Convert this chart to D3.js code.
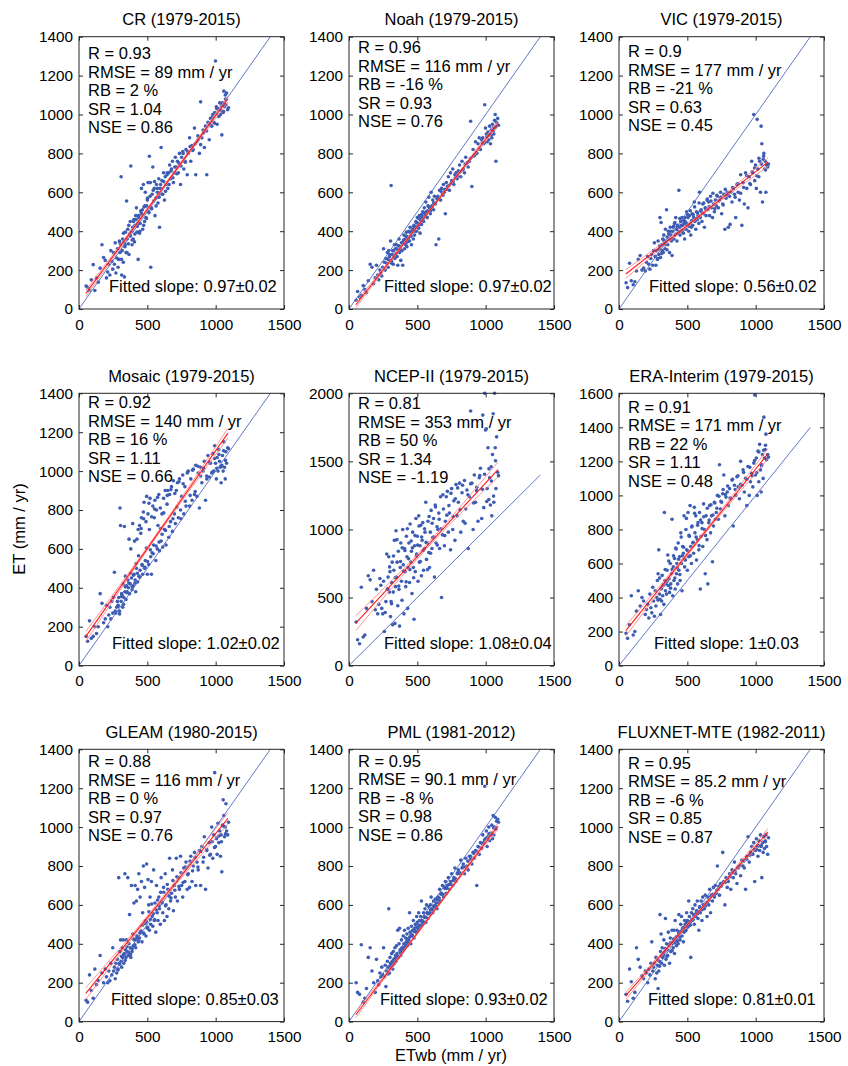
<!DOCTYPE html>
<html>
<head>
<meta charset="utf-8">
<script src="https://cdn.jsdelivr.net/npm/d3@7"></script>
<style>
  body { margin: 0; background: #fff; }
  text { font-family: "Liberation Sans", Arial, sans-serif; fill: #000; }
</style>
</head>
<body>
<div id="chart"></div>
<script>
// Panel labels and statistics
const models = ['CR', 'Noah', 'VIC', 'Mosaic', 'NCEP-II', 'ERA-Interim', 'GLEAM', 'PML', 'FLUXNET-MTE'];
const periods = ['1979-2015', '1979-2015', '1979-2015', '1979-2015', '1979-2015', '1979-2015', '1980-2015', '1981-2012', '1982-2011'];
const statR = ['0.93', '0.96', '0.9', '0.92', '0.81', '0.91', '0.88', '0.95', '0.95'];
const statRMSE = ['89', '116', '177', '140', '353', '171', '116', '90.1', '85.2'];
const statRB = ['2', '-16', '-21', '16', '50', '22', '0', '-8', '-6'];
const statSR = ['1.04', '0.93', '0.63', '1.11', '1.34', '1.11', '0.97', '0.98', '0.85'];
const statNSE = ['0.86', '0.76', '0.45', '0.66', '-1.19', '0.48', '0.76', '0.86', '0.87'];
const slopes = ['0.97±0.02', '0.97±0.02', '0.56±0.02', '1.02±0.02', '1.08±0.04', '1±0.03', '0.85±0.03', '0.93±0.02', '0.81±0.01'];

// Axis extents and ticks
const yMaxes = [1400, 1400, 1400, 1400, 2000, 1600, 1400, 1400, 1400];
const yTicks = [
  [0, 200, 400, 600, 800, 1000, 1200, 1400],
  [0, 500, 1000, 1500, 2000],
  [0, 200, 400, 600, 800, 1000, 1200, 1400, 1600]
];
const yTickSet = [0, 0, 0, 0, 1, 2, 0, 0, 0];
const xTicks = [0, 500, 1000, 1500];

// Fitted lines: y at x = 50 and x = 1090, and half-width of confidence band (ends, middle)
const fitX = [50, 1090];
const fitY = [[80, 1080], [22, 953], [180, 756], [150, 1195], [312, 1440], [205, 1245], [145, 1045], [35, 1005], [133, 975]];
const ciHalf = [[16, 5], [14, 4], [22, 6], [25, 7], [55, 15], [30, 8], [30, 8], [15, 4], [18, 5]];

// Water-balance ET (x), shared by all panels
const etwb = [
  52, 63, 77, 90, 104, 116, 128, 141, 155, 168,
  180, 192, 201, 210, 218, 226, 233, 240, 247, 253,
  259, 265, 270, 276, 281, 286, 291, 296, 300, 304,
  308, 312, 316, 320, 324, 328, 332, 336, 340, 344,
  348, 352, 357, 361, 366, 370, 375, 379, 384, 388,
  393, 397, 402, 406, 411, 415, 420, 424, 429, 433,
  438, 443, 447, 452, 457, 461, 466, 471, 476, 480,
  485, 490, 495, 500, 505, 510, 515, 520, 525, 530,
  535, 540, 546, 551, 556, 562, 567, 573, 578, 584,
  589, 595, 601, 607, 613, 619, 625, 631, 637, 644,
  650, 657, 663, 670, 677, 684, 691, 698, 705, 712,
  720, 727, 735, 743, 751, 759, 767, 775, 783, 792,
  800, 809, 818, 827, 836, 845, 854, 863, 872, 881,
  890, 899, 908, 917, 926, 935, 944, 953, 962, 971,
  979, 986, 993, 999, 1005, 1011, 1017, 1023, 1029, 1035,
  1040, 1045, 1050, 1055, 1060, 1065, 1070, 1075, 1080, 1088,
  285, 297, 311, 326, 338, 351, 364, 377, 389, 399,
  409, 418, 427, 436, 445, 455, 464, 473, 483, 493,
  502, 512, 522, 532, 543, 553, 564, 575, 586, 597,
  608, 620, 633, 646, 660, 673, 687, 701, 716, 731,
  746, 762, 778, 795, 813, 831, 850, 870, 890, 912,
  934, 957, 975, 992, 1008, 1024, 1042, 1058, 1072, 1094
];

// Model ET (y), one array per panel
const etCR = [
  118, 112, 96, 150, 228, 95, 160, 138, 210, 330,
  265, 250, 160, 190, 230, 175, 300, 245, 205, 290,
  230, 340, 185, 262, 310, 215, 255, 350, 290, 330,
  680, 175, 300, 360, 240, 345, 165, 320, 395, 290,
  555, 360, 410, 335, 280, 385, 450, 735, 400, 330,
  420, 360, 460, 345, 430, 480, 520, 395, 440, 255,
  470, 390, 440, 505, 620, 485, 410, 640, 525, 450,
  600, 470, 530, 560, 650, 500, 785, 580, 215, 520,
  590, 730, 555, 620, 480, 570, 640, 600, 545, 670,
  420, 620, 830, 660, 590, 700, 560, 680, 640, 690,
  620, 700, 740, 670, 720, 760, 650, 700, 780, 730,
  760, 700, 800, 640, 780, 810, 720, 760, 820, 690,
  800, 880, 760, 840, 820, 930, 690, 860, 870, 800,
  1065, 880, 920, 830, 940, 690, 960, 870, 980, 940,
  1000, 960, 1010, 1275, 1040, 950, 1030, 990, 1060, 1000,
  1020, 895, 1060, 1010, 1120, 1040, 1100, 1050, 1110, 1025,
  310, 345, 255, 390, 330, 290, 430, 375, 355, 450,
  385, 460, 425, 480, 400, 495, 510, 430, 530, 465,
  570, 495, 650, 515, 610, 655, 530, 620, 575, 640,
  590, 655, 605, 700, 640, 710, 675, 730, 695, 750,
  735, 800, 755, 810, 835, 815, 850, 890, 845, 905,
  915, 950, 985, 955, 1030, 995, 1045, 1015, 1080, 1035
];
const etNoah = [
  45, 90, 60, 70, 120, 100, 85, 145, 230, 215,
  130, 160, 225, 175, 150, 200, 185, 170, 215, 310,
  240, 200, 260, 235, 290, 215, 300, 270, 250, 350,
  635, 245, 280, 300, 230, 270, 330, 260, 310, 285,
  330, 270, 225, 300, 360, 290, 320, 250, 340, 300,
  225, 345, 380, 310, 360, 330, 395, 320, 370, 350,
  400, 350, 420, 375, 330, 395, 410, 360, 430, 380,
  420, 450, 400, 470, 440, 415, 480, 390, 455, 435,
  470, 500, 450, 520, 480, 550, 500, 470, 530, 575,
  520, 490, 600, 530, 560, 510, 580, 540, 330, 570,
  580, 360, 610, 560, 620, 590, 640, 600, 490, 650,
  630, 680, 610, 700, 660, 720, 640, 690, 700, 670,
  710, 740, 680, 760, 720, 700, 780, 750, 730, 760,
  965, 630, 820, 790, 860, 800, 850, 880, 820, 870,
  880, 850, 1050, 930, 900, 860, 910, 870, 940, 850,
  920, 880, 950, 930, 900, 970, 1000, 760, 960, 980,
  255, 280, 235, 300, 270, 310, 325, 305, 340, 355,
  335, 375, 345, 365, 395, 375, 405, 425, 400, 445,
  425, 465, 435, 485, 465, 495, 475, 505, 525, 505,
  525, 545, 545, 565, 565, 605, 585, 615, 615, 635,
  645, 655, 675, 685, 705, 715, 745, 755, 775, 785,
  805, 825, 855, 855, 885, 895, 895, 915, 935, 945
];
const etVIC = [
  135, 110, 235, 145, 125, 140, 195, 255, 275, 200,
  210, 195, 240, 270, 230, 205, 260, 280, 225, 300,
  340, 270, 225, 300, 255, 350, 280, 310, 470, 265,
  445, 330, 300, 360, 290, 380, 340, 310, 410, 350,
  510, 370, 330, 400, 360, 290, 420, 380, 350, 275,
  400, 420, 360, 440, 380, 470, 410, 350, 430, 390,
  610, 420, 380, 450, 400, 470, 430, 390, 440, 360,
  450, 410, 500, 430, 470, 400, 480, 440, 380, 420,
  490, 430, 470, 550, 450, 410, 500, 460, 480, 440,
  600, 470, 510, 450, 540, 490, 420, 520, 480, 560,
  510, 550, 480, 580, 520, 470, 540, 500, 560, 530,
  580, 520, 560, 600, 490, 540, 590, 410, 570, 600,
  420, 580, 600, 550, 620, 590, 470, 640, 600, 560,
  690, 430, 650, 540, 700, 620, 520, 680, 640, 760,
  700, 1000, 660, 740, 620, 975, 720, 680, 760, 600,
  940, 850, 550, 770, 800, 720, 760, 600, 740, 730,
  260, 325, 285, 355, 330, 305, 385, 400, 360, 425,
  445, 385, 425, 400, 465, 430, 405, 455, 470, 440,
  485, 425, 505, 455, 485, 525, 465, 495, 545, 505,
  495, 545, 515, 565, 525, 555, 595, 515, 585, 555,
  575, 535, 615, 585, 435, 625, 575, 645, 595, 625,
  685, 645, 705, 725, 685, 775, 745, 785, 715, 745
];
const etMosaic = [
  150, 125, 230, 140, 150, 200, 165, 200, 370, 320,
  220, 240, 310, 200, 260, 300, 240, 330, 270, 350,
  480, 280, 270, 300, 330, 310, 350, 280, 810, 720,
  330, 370, 360, 300, 420, 350, 715, 380, 460, 340,
  410, 380, 440, 400, 650, 370, 420, 600, 450, 390,
  730, 410, 470, 640, 440, 380, 500, 650, 430, 700,
  460, 720, 490, 680, 760, 520, 470, 790, 840, 500,
  540, 740, 870, 470, 780, 520, 700, 860, 560, 470,
  580, 820, 620, 760, 850, 540, 800, 600, 720, 880,
  590, 810, 640, 780, 610, 860, 700, 900, 620, 830,
  900, 660, 880, 740, 920, 690, 950, 780, 730, 900,
  940, 760, 960, 800, 870, 980, 780, 920, 820, 990,
  1000, 820, 960, 850, 1010, 880, 1030, 870, 990, 810,
  1020, 940, 1000, 1050, 850, 960, 1080, 970, 1040, 990,
  1090, 1000, 1130, 1040, 960, 1070, 1000, 1110, 1050, 1020,
  940, 1030, 1080, 1000, 1150, 1020, 960, 1100, 1040, 1120,
  305, 265, 355, 315, 405, 375, 425, 475, 405, 465,
  425, 525, 475, 565, 455, 705, 515, 755, 505, 605,
  535, 835, 595, 765, 575, 805, 615, 865, 635, 705,
  675, 785, 695, 875, 715, 905, 755, 885, 815, 945,
  755, 935, 845, 995, 875, 1005, 895, 1025, 975, 1015,
  975, 1045, 995, 1065, 1015, 1085, 1025, 1105, 1055, 1115
];
const etNCEP = [
  320, 190, 160, 575, 210, 225, 420, 660, 630, 470,
  700, 410, 560, 380, 450, 640, 590, 420, 380, 620,
  250, 390, 470, 820, 560, 650, 800, 540, 690, 360,
  470, 610, 760, 300, 540, 700, 920, 310, 580, 990,
  650, 760, 440, 840, 560, 290, 720, 900, 620, 480,
  1000, 740, 380, 860, 690, 580, 950, 800, 420, 720,
  900, 610, 1040, 760, 840, 530, 980, 720, 340, 880,
  690, 1080, 820, 950, 620, 1100, 760, 880, 1030, 660,
  920, 1050, 700, 860, 980, 1200, 780, 900, 1060, 830,
  720, 980, 1140, 860, 940, 1080, 650, 1180, 900, 1020,
  1000, 1120, 860, 1240, 500, 960, 1150, 880, 1060, 1240,
  1280, 980, 1120, 850, 1300, 1000, 1210, 920, 1330, 1100,
  1200, 1340, 980, 1270, 1060, 1360, 1150, 1290, 860, 1240,
  1870, 1340, 1000, 1400, 1200, 1310, 1060, 1380, 1450, 1080,
  1840, 1160, 2000, 1730, 1740, 1300, 1600, 1220, 1380, 1180,
  1460, 1100, 1550, 1850, 1200, 2000, 1600, 1300, 1680, 1420,
  565, 725, 455, 805, 645, 925, 585, 765, 865, 695,
  845, 615, 1005, 785, 705, 915, 865, 645, 955, 805,
  885, 1025, 765, 945, 845, 1005, 905, 705, 1095, 825,
  1045, 945, 1165, 885, 1075, 1005, 1255, 955, 1105, 1175,
  1265, 1095, 1225, 1305, 1145, 1325, 1045, 1255, 1335, 1195,
  1285, 1395, 1295, 1405, 1205, 1445, 1355, 1245, 1505, 1395
];
const etERA = [
  190, 160, 240, 410, 180, 200, 320, 440, 350, 400,
  380, 300, 330, 360, 280, 420, 340, 310, 460, 380,
  290, 440, 350, 400, 500, 540, 680, 420, 390, 300,
  450, 380, 530, 410, 470, 360, 900, 500, 440, 480,
  420, 560, 650, 470, 510, 430, 600, 480, 540, 860,
  410, 580, 500, 630, 450, 690, 540, 600, 480, 720,
  560, 640, 500, 780, 600, 440, 700, 660, 880, 580,
  620, 800, 680, 560, 900, 640, 760, 940, 700, 600,
  820, 720, 660, 930, 780, 880, 620, 740, 840, 680,
  900, 450, 760, 840, 700, 950, 800, 540, 880, 740,
  480, 840, 940, 780, 880, 610, 820, 960, 860, 900,
  1000, 860, 1180, 920, 960, 1010, 1120, 880, 990, 1020,
  940, 1040, 980, 1090, 820, 1060, 1000, 1110, 1050, 980,
  1200, 1060, 1150, 1020, 1100, 940, 1170, 1000, 1080, 1130,
  1050, 1190, 1590, 1120, 1220, 1000, 1260, 1080, 1300, 1150,
  1020, 1180, 1240, 1100, 1460, 1220, 1270, 1360, 1210, 1240,
  385, 515, 455, 475, 565, 495, 615, 455, 565, 645,
  515, 685, 575, 625, 535, 755, 645, 695, 625, 865,
  675, 765, 645, 815, 725, 895, 755, 825, 705, 855,
  805, 875, 765, 925, 855, 945, 885, 955, 925, 995,
  965, 1035, 1005, 1055, 985, 1095, 1035, 1115, 1065, 1135,
  1095, 1165, 1115, 1205, 1135, 1255, 1175, 1265, 1295, 1225
];
const etGLEAM = [
  110, 100, 240, 160, 120, 270, 190, 210, 340, 250,
  200, 270, 230, 200, 260, 210, 300, 240, 380, 260,
  280, 220, 300, 250, 320, 270, 740, 300, 360, 420,
  310, 280, 380, 330, 420, 300, 350, 760, 370, 330,
  420, 360, 740, 340, 400, 550, 380, 330, 700, 360,
  450, 390, 610, 420, 700, 380, 620, 440, 680, 410,
  760, 430, 640, 460, 720, 410, 560, 800, 450, 690,
  520, 440, 810, 480, 730, 600, 470, 640, 500, 720,
  540, 490, 780, 520, 610, 460, 700, 560, 520, 640,
  580, 500, 740, 610, 560, 690, 520, 760, 600, 540,
  680, 580, 840, 620, 660, 780, 570, 700, 640, 840,
  620, 740, 680, 850, 700, 640, 790, 720, 820, 680,
  760, 690, 850, 720, 800, 870, 700, 820, 780, 880,
  700, 900, 820, 950, 680, 880, 790, 920, 860, 1000,
  840, 960, 1280, 900, 940, 860, 1020, 920, 980, 850,
  960, 770, 1010, 1140, 1060, 950, 1000, 1120, 980, 960,
  265, 295, 335, 345, 315, 385, 355, 345, 375, 425,
  395, 425, 435, 415, 455, 465, 495, 455, 505, 515,
  485, 565, 525, 605, 555, 525, 575, 625, 595, 665,
  615, 665, 595, 705, 645, 635, 725, 675, 745, 695,
  765, 715, 795, 755, 825, 775, 845, 795, 875, 845,
  885, 855, 925, 895, 945, 955, 925, 1005, 965, 1025
];
const etPML = [
  200, 150, 140, 395, 100, 120, 170, 330, 380, 260,
  200, 150, 320, 210, 190, 250, 230, 280, 240, 380,
  230, 290, 180, 260, 310, 280, 580, 250, 330, 300,
  290, 350, 310, 270, 360, 320, 300, 380, 340, 310,
  390, 350, 470, 330, 400, 480, 370, 340, 420, 380,
  360, 440, 400, 470, 380, 430, 410, 450, 390, 480,
  420, 560, 460, 400, 490, 440, 470, 520, 430, 480,
  500, 460, 540, 510, 480, 560, 520, 490, 540, 620,
  520, 500, 560, 540, 580, 510, 600, 560, 530, 590,
  560, 600, 640, 580, 560, 620, 590, 630, 610, 580,
  640, 610, 680, 620, 660, 700, 640, 690, 720, 660,
  700, 740, 680, 720, 760, 700, 740, 790, 720, 760,
  780, 760, 830, 790, 810, 760, 840, 800, 780, 850,
  850, 810, 870, 840, 880, 700, 900, 860, 920, 890,
  960, 920, 1210, 940, 980, 900, 950, 1000, 930, 960,
  970, 1010, 940, 1060, 960, 1000, 1050, 990, 1030, 1040,
  245, 275, 285, 295, 325, 335, 335, 355, 375, 375,
  385, 395, 425, 405, 435, 445, 445, 465, 465, 485,
  465, 495, 495, 515, 515, 535, 535, 555, 555, 575,
  575, 595, 595, 625, 635, 655, 655, 685, 685, 705,
  705, 725, 735, 765, 765, 795, 795, 825, 835, 865,
  875, 895, 915, 935, 945, 965, 965, 995, 995, 1025
];
const etFLUX = [
  140, 105, 270, 205, 120, 150, 380, 320, 280, 235,
  220, 260, 250, 200, 270, 240, 300, 410, 260, 280,
  300, 220, 330, 250, 290, 170, 260, 310, 550, 360,
  450, 300, 380, 330, 350, 420, 290, 360, 530, 320,
  400, 370, 340, 460, 390, 300, 430, 360, 400, 470,
  410, 380, 470, 350, 520, 420, 390, 470, 440, 400,
  550, 460, 420, 500, 540, 440, 480, 410, 460, 520,
  500, 470, 560, 520, 490, 620, 540, 510, 330, 560,
  520, 580, 550, 500, 600, 540, 570, 620, 530, 470,
  590, 560, 620, 520, 640, 600, 580, 650, 610, 540,
  640, 600, 680, 560, 650, 620, 690, 640, 700, 660,
  800, 680, 650, 710, 700, 870, 720, 600, 740, 690,
  720, 760, 680, 780, 740, 820, 760, 710, 790, 800,
  750, 830, 800, 790, 680, 850, 950, 820, 870, 900,
  860, 920, 720, 880, 940, 900, 850, 930, 880, 960,
  900, 740, 920, 870, 950, 890, 930, 960, 900, 860,
  315, 285, 335, 345, 375, 335, 395, 405, 365, 425,
  405, 435, 415, 455, 435, 465, 465, 485, 465, 505,
  485, 515, 495, 525, 525, 545, 555, 555, 565, 585,
  575, 595, 595, 615, 625, 645, 655, 655, 675, 695,
  695, 715, 715, 735, 745, 765, 775, 795, 805, 825,
  835, 855, 865, 885, 885, 905, 905, 925, 925, 945
];
const etSeries = [etCR, etNoah, etVIC, etMosaic, etNCEP, etERA, etGLEAM, etPML, etFLUX];

// Layout
const W = 848, H = 1066;
const colLeft = [79, 349, 619];
const rowTop = [36.7, 393.3, 749.3];
const pw = 205, ph = 272.3;
const statTop = [22.6, 16.6, 20.6, 15, 16, 19.4, 18, 17.4, 19.7];
const slopeLeft = [30, 35, 30, 33, 35, 35, 32, 31, 29];
const fs = '16.5px', tickFs = '15.3px';

const svg = d3.select('#chart').append('svg')
  .attr('width', W)
  .attr('height', H);

models.forEach((name, i) => {
  const left = colLeft[i % 3];
  const top = rowTop[Math.floor(i / 3)];
  const g = svg.append('g').attr('transform', `translate(${left},${top})`);

  const x = d3.scaleLinear().domain([0, 1500]).range([0, pw]);
  const y = d3.scaleLinear().domain([0, yMaxes[i]]).range([ph, 0]);
  const yt = yTicks[yTickSet[i]];

  // Axes with inward ticks
  const ax = g.append('g').attr('transform', `translate(0,${ph})`)
    .call(d3.axisBottom(x).tickValues(xTicks).tickFormat(d3.format('d')).tickSize(-4).tickPadding(10));
  const ay = g.append('g')
    .call(d3.axisLeft(y).tickValues(yt).tickFormat(d3.format('d')).tickSize(-4).tickPadding(6));
  g.append('g').attr('transform', `translate(${pw},0)`)
    .call(d3.axisRight(y).tickValues(yt).tickSize(-4).tickFormat(''));
  g.append('g')
    .call(d3.axisTop(x).tickValues(xTicks).tickSize(-4).tickFormat(''));
  g.selectAll('.domain').remove();
  g.selectAll('.tick line').attr('stroke', '#262626');
  [ax, ay].forEach(a => a.selectAll('text')
    .attr('font-size', tickFs)
    .attr('fill', '#000')
    .attr('font-family', '"Liberation Sans", Arial, sans-serif'));

  // Scatter points
  g.append('g').selectAll('circle')
    .data(etSeries[i])
    .join('circle')
    .attr('cx', (d, k) => x(etwb[k]))
    .attr('cy', d => y(d))
    .attr('r', 1.8)
    .attr('fill', '#3d5cb3');

  // 1:1 line
  g.append('line')
    .attr('x1', x(0)).attr('y1', y(0))
    .attr('x2', x(1400)).attr('y2', y(1400))
    .attr('stroke', '#5068c0')
    .attr('stroke-width', 0.9);

  // Fitted line and confidence band
  const [y0, y1] = fitY[i];
  const xm = (fitX[0] + fitX[1]) / 2;
  const ym = (y0 + y1) / 2;
  const [he, hm] = ciHalf[i];
  const line = d3.line().x(d => x(d[0])).y(d => y(d[1]));
  const bands = [
    [[fitX[0], y0 + he], [xm, ym + hm], [fitX[1], y1 + he]],
    [[fitX[0], y0 - he], [xm, ym - hm], [fitX[1], y1 - he]]
  ];
  bands.forEach(b => g.append('path')
    .attr('d', d3.line().x(d => x(d[0])).y(d => y(d[1])).curve(d3.curveNatural)(b))
    .attr('fill', 'none')
    .attr('stroke', '#ff8a8a')
    .attr('stroke-width', 0.9));
  g.append('path')
    .attr('d', line([[fitX[0], y0], [fitX[1], y1]]))
    .attr('fill', 'none')
    .attr('stroke', '#ff1a1a')
    .attr('stroke-width', 1.1);

  // Frame
  g.append('rect')
    .attr('width', pw).attr('height', ph)
    .attr('fill', 'none')
    .attr('stroke', '#262626')
    .attr('stroke-width', 1);

  // Title
  g.append('text')
    .attr('x', pw / 2)
    .attr('y', -11.5)
    .attr('text-anchor', 'middle')
    .attr('font-size', fs)
    .text(`${name} (${periods[i]})`);

  // Statistics
  const lines = [
    `R = ${statR[i]}`,
    `RMSE = ${statRMSE[i]} mm / yr`,
    `RB = ${statRB[i]} %`,
    `SR = ${statSR[i]}`,
    `NSE = ${statNSE[i]}`
  ];
  g.append('g').selectAll('text')
    .data(lines)
    .join('text')
    .attr('x', 9)
    .attr('y', (d, k) => statTop[i] + k * 18.5)
    .attr('font-size', fs)
    .text(d => d);

  g.append('text')
    .attr('x', slopeLeft[i])
    .attr('y', ph - 16.5)
    .attr('font-size', fs)
    .text(`Fitted slope: ${slopes[i]}`);
});

// Axis titles
svg.append('text')
  .attr('transform', `translate(25,529) rotate(-90)`)
  .attr('text-anchor', 'middle')
  .attr('font-size', fs)
  .text('ET (mm / yr)');

svg.append('text')
  .attr('x', 451)
  .attr('y', 1061)
  .attr('text-anchor', 'middle')
  .attr('font-size', fs)
  .text('ETwb (mm / yr)');
</script>
</body>
</html>
